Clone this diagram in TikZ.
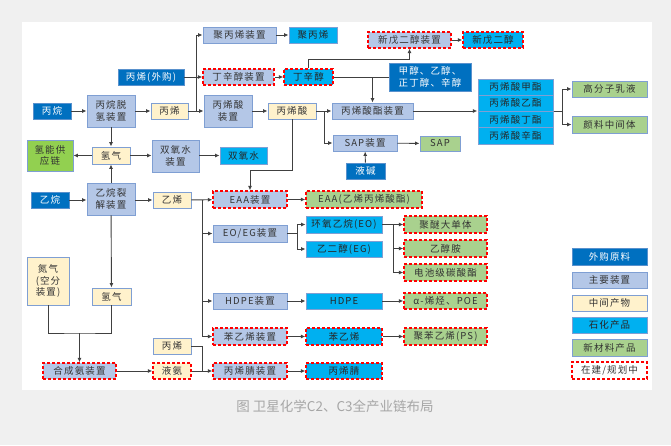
\documentclass[tikz,border=0pt]{standalone}
\usepackage{fontspec}
\setmainfont{Noto Sans CJK SC}
\newfontfamily\boxfont[LetterSpace=12]{Noto Sans CJK SC}
\newfontfamily\capfont{Noto Sans CJK SC}
\usetikzlibrary{arrows.meta,fit,calc}
\definecolor{rawc}{HTML}{0070C0}
\definecolor{devc}{HTML}{B4C7E7}
\definecolor{midc}{HTML}{FFF2CC}
\definecolor{prodc}{HTML}{00B0F0}
\definecolor{newc}{HTML}{A9D18E}
\definecolor{h2c}{HTML}{92D050}
\definecolor{bordc}{HTML}{7F9FD3}
\definecolor{linec}{HTML}{404040}
\definecolor{txtc}{HTML}{333333}
\definecolor{bgc}{HTML}{F0F0F0}
\definecolor{capc}{HTML}{A6A6A6}
\tikzset{
  base/.style={draw=bordc, line width=0.9pt, inner sep=0pt, align=center,
    font=\boxfont\fontsize{9.5}{11.5}\selectfont, text=txtc},
  raw/.style={base, fill=rawc, draw=bordc!70!rawc, text=white},
  dev/.style={base, fill=devc},
  mid/.style={base, fill=midc},
  prod/.style={base, fill=prodc, text=black!85},
  newm/.style={base, fill=newc},
  h2s/.style={base, fill=h2c},
  plan/.style={draw=red, dashed, dash pattern=on 3pt off 2pt, line width=1.3pt},
  wbox/.style={base, fill=white},
  conn/.style={draw=linec, line width=0.9pt},
  arr/.style={conn, -{Latex[length=4.5pt,width=4pt]}},
}
\newcommand\bx[7]{%
  \pgfmathsetmacro\bxw{#5-#3}\pgfmathsetmacro\bxh{#6-#4}%
  \pgfmathsetmacro\bxx{(#3+#5)/2}\pgfmathsetmacro\bxy{(#4+#6)/2}%
  \node[#1, minimum width=\bxw pt, minimum height=\bxh pt] (#2) at (\bxx,\bxy) {#7};}
\begin{document}
\begin{tikzpicture}[x=1pt,y=-1pt]
\useasboundingbox (0,0) rectangle (671,445);
\fill[bgc] (0,0) rectangle (671,445);
\fill[white] (22,22) rectangle (652,390);
% ---- propane chain
\bx{dev}{ppdev}{203}{27}{276}{43}{聚丙烯装置}
\bx{prod}{pp}{289}{27}{337}{43}{聚丙烯}
\bx{dev,plan}{npgdev}{368}{32}{451}{48}{新戊二醇装置}
\bx{prod,plan}{npg}{463}{32}{523}{48}{新戊二醇}
\bx{raw}{cbuy}{118}{69}{184}{85}{丙烯(外购)}
\bx{dev,plan}{bodev}{203}{69}{274}{85}{丁辛醇装置}
\bx{prod,plan}{bo}{284}{69}{333}{85}{丁辛醇}
\bx{raw}{alc}{389}{63}{471}{91}{甲醇、乙醇、\\正丁醇、辛醇}
\bx{raw}{propane}{33}{103}{71}{119}{丙烷}
\bx{dev}{pdh}{87}{95}{135}{127}{丙烷脱\\氢装置}
\bx{mid}{cthree}{151}{103}{188}{119}{丙烯}
\bx{dev}{aadev}{204}{95}{252}{127}{丙烯酸\\装置}
\bx{mid}{aa}{268}{103}{316}{119}{丙烯酸}
\bx{dev}{aedev}{332}{103}{413}{119}{丙烯酸酯装置}
\bx{prod}{aone}{478}{79}{553}{95.25}{丙烯酸甲酯}
\bx{prod}{atwo}{478}{95.25}{553}{111.5}{丙烯酸乙酯}
\bx{prod}{athree}{478}{111.5}{553}{127.75}{丙烯酸丁酯}
\bx{prod}{afour}{478}{127.75}{553}{144}{丙烯酸辛酯}
\node[fit=(aone)(afour), inner sep=0pt] (stack) {};
\bx{newm}{latex}{572}{81}{647}{97}{高分子乳液}
\bx{newm}{pig}{572}{116}{647}{133}{颜料中间体}
\bx{dev}{sapdev}{333}{135}{397}{151}{SAP装置}
\bx{newm}{sap}{420}{136}{460}{151}{SAP}
\bx{raw}{naoh}{346}{163}{385}{179}{液碱}
% ---- hydrogen / ethane chain
\bx{h2s}{hchain}{27}{140}{73}{171}{氢能供\\应链}
\bx{mid}{htwo}{92}{147}{130}{164}{氢气}
\bx{dev}{hpdev}{152}{140}{199}{172}{双氧水\\装置}
\bx{prod}{hp}{220}{147}{267}{164}{双氧水}
\bx{raw}{ethane}{31}{192}{69}{208}{乙烷}
\bx{dev}{ec}{87}{183}{135}{215}{乙烷裂\\解装置}
\bx{mid}{ctwo}{153}{192}{191}{208}{乙烯}
\bx{dev,plan}{eaadev}{213}{191}{287}{208}{EAA装置}
\bx{newm,plan}{eaa}{306}{191}{422}{208}{EAA(乙烯丙烯酸酯)}
\bx{dev}{eoegdev}{213}{225}{287}{242}{EO/EG装置}
\bx{prod}{eo}{306}{216}{382}{233}{环氧乙烷(EO)}
\bx{prod}{eg}{306}{241}{382}{257}{乙二醇(EG)}
\bx{newm,plan}{pe}{404}{216}{487}{233}{聚醚大单体}
\bx{newm,plan}{eoa}{404}{240}{487}{257}{乙醇胺}
\bx{newm,plan}{dmc}{404}{264}{487}{281}{电池级碳酸酯}
\bx{dev}{hdpedev}{213}{293}{287}{309}{HDPE装置}
\bx{prod}{hdpe}{306}{293}{382}{309}{HDPE}
\bx{newm,plan}{poe}{404}{293}{487}{309}{α-烯烃、POE}
\bx{dev,plan}{smdev}{213}{328}{287}{345}{苯乙烯装置}
\bx{prod,plan}{sm}{306}{328}{382}{345}{苯乙烯}
\bx{newm,plan}{ps}{404}{328}{487}{345}{聚苯乙烯(PS)}
\bx{dev,plan}{andev}{213}{363}{287}{379}{丙烯腈装置}
\bx{prod,plan}{an}{306}{363}{382}{379}{丙烯腈}
\bx{mid}{ntwo}{27}{257}{69}{305}{氮气\\(空分\\装置)}
\bx{mid}{htwob}{92}{288}{131}{305}{氢气}
\bx{dev,plan}{nhdev}{43}{363}{116}{379}{合成氨装置}
\bx{mid}{cthreeb}{153}{338}{191}{354}{丙烯}
\bx{mid,plan}{nh}{153}{363}{191}{379}{液氨}
% ---- legend
\bx{raw}{lgone}{572}{248}{647}{265}{外购原料}
\bx{dev}{lgtwo}{572}{272}{647}{288}{主要装置}
\bx{mid}{lgthree}{572}{295}{647}{311}{中间产物}
\bx{prod}{lgfour}{572}{317}{647}{333}{石化产品}
\bx{newm}{lgfive}{572}{339}{647}{356}{新材料产品}
\bx{wbox,plan}{lgsix}{572}{362}{647}{379}{在建/规划中}
% ---- caption
\node[font=\capfont\fontsize{13.5}{15}\selectfont, text=capc] (cap) at (335,406) {图 卫星化学C2、C3全产业链布局};
% ---- connectors: propane chain
\draw[arr] (propane) -- (pdh);
\draw[arr] (pdh) -- (cthree);
\draw[arr] (cthree) -- (aadev);
\coordinate (jone) at (196,111);
\draw[arr] (jone) |- (ppdev.west);
\draw[arr] (cbuy) -- (bodev);
\draw[arr] (ppdev) -- (pp);
\draw[arr] (bodev) -- (bo);
\draw[arr] (bo.north) -- ++(0,-9) -| (npgdev.south);
\draw[arr] (npgdev) -- (npg);
\draw[conn] (bo) -- (alc);
\draw[arr] (aedev.north |- bo.east) -- (aedev.north);
\draw[arr] (aadev) -- (aa);
\draw[arr] (aa) -- (aedev);
\coordinate (jtwo) at ($(aa.east)!0.5!(aedev.west)$);
\draw[arr] (jtwo) |- (sapdev.west);
\draw[arr] (aa.south) -- ++(0,51) -| (eaadev.north);
\draw[arr] (aedev.east) -- (aedev.east -| stack.west);
\draw[arr] (stack.east) -- ++(9,0) |- (latex.west);
\draw[arr] (stack.east) -- ++(9,0) |- (pig.west);
\draw[arr] (sapdev) -- (sap);
\draw[arr] (naoh) -- (sapdev);
% ---- hydrogen / ethane
\draw[arr] (pdh) -- (htwo);
\draw[arr] (ec) -- (htwo);
\draw[arr] (htwo) -- (hchain);
\draw[arr] (htwo) -- (hpdev.west |- htwo.east);
\draw[arr] (hpdev.east |- hp.west) -- (hp.west);
\draw[arr] (ethane.east) -- (ec.west |- ethane.east);
\draw[arr] (ec.east |- ctwo.west) -- (ctwo.west);
\draw[arr] (ctwo) -- (eaadev);
\coordinate (jthree) at (202,200);
\draw[arr] (jthree) |- (eoegdev.west);
\draw[arr] (jthree) |- (hdpedev.west);
\draw[arr] (jthree) |- (smdev.west);
\draw[arr] (eaadev) -- (eaa);
\draw[arr] (eoegdev.east) -- ++(10,0) |- (eo.west);
\draw[arr] (eoegdev.east) -- ++(10,0) |- (eg.west);
\draw[arr] (eo.east) -- ++(11,0) |- (pe.west);
\draw[arr] (eo.east) -- ++(11,0) |- (eoa.west);
\draw[arr] (eo.east) -- ++(11,0) |- (dmc.west);
\draw[arr] (hdpedev) -- (hdpe);
\draw[arr] (hdpe) -- (poe);
\draw[arr] (smdev) -- (sm);
\draw[arr] (sm) -- (ps);
\draw[arr] (andev) -- (an);
\draw[arr] (ec) -- (htwob);
\coordinate (jfour) at (79.5,333);
\draw[conn] (ntwo.south) |- (jfour) -| (htwob.south);
\draw[arr] (jfour) -- (nhdev.north);
\draw[arr] (nhdev) -- (nh);
\draw[arr] (nh) -- (andev);
\coordinate (jfive) at ($(nh.east)!0.5!(andev.west)$);
\draw[conn] (cthreeb.east) -| (jfive);
\end{tikzpicture}
\end{document}
